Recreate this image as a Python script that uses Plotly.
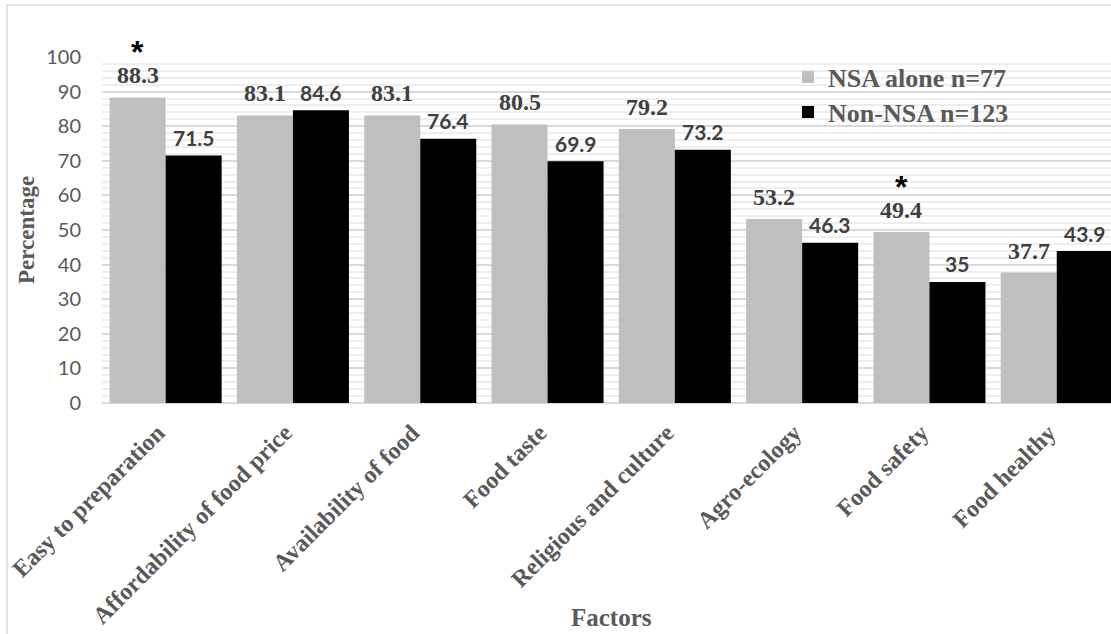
import plotly.graph_objects as go

categories = ["Easy to preparation", "Affordability of food price", "Availability of food",
              "Food taste", "Religious and culture", "Agro-ecology", "Food safety", "Food healthy"]
nsa_alone = [88.3, 83.1, 83.1, 80.5, 79.2, 53.2, 49.4, 37.7]
non_nsa = [71.5, 84.6, 76.4, 69.9, 73.2, 46.3, 35, 43.9]
nsa_label = "NSA alone n=77"
non_label = "Non-NSA n=123"
significant = ["Easy to preparation", "Food safety"]  # marked with * on NSA alone bar
y_ticks = [0, 10, 20, 30, 40, 50, 60, 70, 80, 90, 100]

GREY = "#bfbfbf"
BLACK = "#000000"
TXT = "#595959"
LBL = "#404040"
SERIF = "Liberation Serif, Times New Roman, serif"
SANS = "Lato, Liberation Sans, sans-serif"

W, H = 1111, 634
ML, MR, MT, MB = 102, 0, 57, 231
PW = W - ML - MR
PH = H - MT - MB
CAT_PX = 127.3

x_idx = list(range(len(categories)))

fig = go.Figure()
fig.add_trace(go.Bar(x=x_idx, y=nsa_alone, name=nsa_label, marker_color=GREY,
                     marker_line_width=0, legend="legend", showlegend=True))
fig.add_trace(go.Bar(x=x_idx, y=non_nsa, name=non_label, marker_color=BLACK,
                     marker_line_width=0, legend="legend2", showlegend=True))

annotations = []
off = 0.22
for i, v in enumerate(nsa_alone):
    annotations.append(dict(x=i - off, y=v, xref="x", yref="y", text=f"{v:g}",
                            showarrow=False, yanchor="middle", yshift=22,
                            font=dict(family=SERIF, size=24, color=LBL, weight="bold")))
for i, v in enumerate(non_nsa):
    annotations.append(dict(x=i + off, y=v, xref="x", yref="y", text=f"{v:g}",
                            showarrow=False, yanchor="middle", yshift=18,
                            font=dict(family=SANS, size=21, color=LBL, weight="bold")))
for c in significant:
    i = categories.index(c)
    annotations.append(dict(x=i - off, y=nsa_alone[i], xref="x", yref="y", text="*",
                            showarrow=False, yanchor="middle", yshift=45,
                            font=dict(family="Liberation Sans, sans-serif", size=32,
                                      color="#000000", weight="bold")))

# axis titles
annotations.append(dict(text="Percentage", xref="paper", yref="paper",
                        x=(26 - ML) / PW, y=(H - MB - 230) / PH, textangle=-90,
                        showarrow=False, xanchor="center", yanchor="middle",
                        font=dict(family=SERIF, size=23, color=TXT, weight="bold")))
annotations.append(dict(text="Factors", xref="paper", yref="paper",
                        x=(611 - ML) / PW, y=(H - MB - 617) / PH,
                        showarrow=False, xanchor="center", yanchor="middle",
                        font=dict(family=SERIF, size=25, color=TXT, weight="bold")))

legend_font = dict(family=SERIF, size=26, color=TXT, weight="bold")
fig.update_layout(
    width=W, height=H,
    margin=dict(l=ML, r=MR, t=MT, b=MB, pad=0),
    paper_bgcolor="white", plot_bgcolor="white",
    barmode="group", bargap=0.12, bargroupgap=0,
    annotations=annotations,
    showlegend=True,
    legend=dict(x=(788 - ML) / PW, y=(H - MB - 77) / PH, xanchor="left", yanchor="middle",
                bgcolor="rgba(0,0,0,0)", font=legend_font),
    legend2=dict(x=(788 - ML) / PW, y=(H - MB - 112) / PH, xanchor="left", yanchor="middle",
                 bgcolor="rgba(0,0,0,0)", font=legend_font),
    shapes=[dict(type="rect", xref="paper", yref="paper",
                 x0=(7 - ML) / PW, x1=(W + 20 - ML) / PW,
                 y0=(H - MB - (H + 20)) / PH, y1=(H - MB - 5) / PH,
                 line=dict(color="#d9d9d9", width=1.5), fillcolor="rgba(0,0,0,0)",
                 layer="below")],
)

fig.update_xaxes(
    range=[-0.5, -0.5 + PW / CAT_PX],
    tickmode="array", tickvals=x_idx, ticktext=categories,
    tickangle=-45, ticks="", showgrid=False, zeroline=False, showline=False,
    tickfont=dict(family=SERIF, size=24, color=TXT, weight="bold"),
    ticklabelstandoff=10, ticklabelshift=-8,
)
fig.update_yaxes(
    range=[0, 100], tickmode="array", tickvals=y_ticks,
    ticks="", showline=False, zeroline=True, zerolinecolor="#d9d9d9", zerolinewidth=2,
    showgrid=True, gridcolor="#d9d9d9", gridwidth=1.5,
    minor=dict(dtick=2, showgrid=True, gridcolor="#eeeeee", gridwidth=2),
    tickfont=dict(family=SANS, size=20, color=TXT),
    ticklabelstandoff=20,
)

fig.write_html("out.html", config={"displayModeBar": False},
               post_script="document.body.style.margin='0px';document.body.style.overflow='hidden';")
